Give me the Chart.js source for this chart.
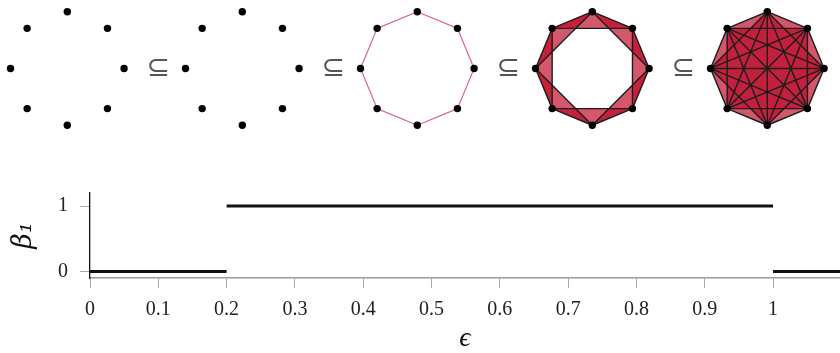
<!DOCTYPE html>
<html><head><meta charset="utf-8">
<script src="https://cdn.jsdelivr.net/npm/chart.js@4"></script>
<style>
html,body{margin:0;padding:0;background:#fff;width:840px;height:353px;overflow:hidden}
#top{position:absolute;left:0;top:0}
#bot{position:absolute;left:0;top:150px}
</style></head><body>
<canvas id="top" width="840" height="150"></canvas>
<canvas id="bot" width="840" height="203"></canvas>
<script>
// ---- Betti curve (bottom panel) ----
const segStart = [0, 0.2, 1];
const segEnd = [0.2, 1, 1.1];
const betti1 = [0, 1, 0];
const xTicks = [0, 0.1, 0.2, 0.3, 0.4, 0.5, 0.6, 0.7, 0.8, 0.9, 1];
const xTickLabels = ['0', '0.1', '0.2', '0.3', '0.4', '0.5', '0.6', '0.7', '0.8', '0.9', '1'];
const yTicks = [0, 1];
const yTickLabels = ['0', '1'];
const xTitle = 'ϵ';
const yTitle = 'β₁';

// ---- Filtration of complexes (top panel) ----
const figureIndex = [0, 1, 2, 3, 4];
const octX = [0, -0.7071, -1, -0.7071, 0, 0.7071, 1, 0.7071];
const octY = [1, 0.7071, 0, -0.7071, -1, -0.7071, 0, 0.7071];
const figureReach = [0, 0, 1, 2, 4]; // max circular neighbour distance connected
const subsetSymbol = '⊆';

const R = 0.3245;
const N = octX.length;
const cdist = (a, b) => { const d = Math.abs(a - b) % N; return Math.min(d, N - d); };

const vertexData = [];
figureIndex.forEach(f => octX.forEach((ox, k) => vertexData.push({x: f + R * ox, y: R * octY[k]})));

const complexPlugin = {
  id: 'complex',
  beforeDatasetsDraw(chart) {
    const ctx = chart.ctx, xs = chart.scales.x, ys = chart.scales.y;
    ctx.save();
    figureIndex.forEach((f, fi) => {
      const s = figureReach[fi];
      const P = octX.map((ox, k) => [xs.getPixelForValue(f + R * ox), ys.getPixelForValue(R * octY[k])]);
      const tris = [];
      for (let i = 0; i < N; i++) for (let j = i + 1; j < N; j++) for (let k = j + 1; k < N; k++) {
        if (cdist(i, j) <= s && cdist(j, k) <= s && cdist(i, k) <= s) tris.push([i, j, k]);
      }
      const tri = t => { ctx.beginPath(); ctx.moveTo(...P[t[0]]); ctx.lineTo(...P[t[1]]); ctx.lineTo(...P[t[2]]); ctx.closePath(); ctx.fill(); };
      if (s >= N / 2) {
        ctx.fillStyle = '#d4566b';
        ctx.beginPath(); P.forEach((p, i) => i ? ctx.lineTo(...p) : ctx.moveTo(...p)); ctx.closePath(); ctx.fill();
        ctx.fillStyle = '#c2203d';
        tris.filter(t => cdist(t[0], t[1]) > 1 && cdist(t[1], t[2]) > 1 && cdist(t[0], t[2]) > 1).forEach(tri);
      } else {
        ctx.fillStyle = 'rgba(192,7,37,0.68)';
        tris.forEach(tri);
      }
      ctx.strokeStyle = s === 1 ? '#d9687c' : '#1c1c1c';
      ctx.lineWidth = s === 1 ? 1.2 : 1.4;
      for (let i = 0; i < N; i++) for (let j = i + 1; j < N; j++) {
        if (cdist(i, j) <= s) { ctx.beginPath(); ctx.moveTo(...P[i]); ctx.lineTo(...P[j]); ctx.stroke(); }
      }
    });
    ctx.restore();
  },
  afterDraw(chart) {
    const ctx = chart.ctx, xs = chart.scales.x, ys = chart.scales.y;
    ctx.save();
    ctx.fillStyle = '#555';
    ctx.font = '28px "DejaVu Sans"';
    ctx.textAlign = 'center';
    ctx.textBaseline = 'middle';
    figureIndex.slice(0, -1).forEach(f => ctx.fillText(subsetSymbol, xs.getPixelForValue(f + 0.52), ys.getPixelForValue(0)));
    ctx.restore();
  }
};

new Chart(document.getElementById('top'), {
  type: 'scatter',
  data: {datasets: [{data: vertexData, pointRadius: 3.7, backgroundColor: '#000', borderWidth: 0}]},
  options: {
    responsive: false, animation: false, events: [],
    layout: {padding: 0, autoPadding: false},
    plugins: {legend: {display: false}, tooltip: {enabled: false}},
    scales: {
      x: {type: 'linear', display: false, min: -0.3846, max: 4.4154},
      y: {type: 'linear', display: false, min: -0.466, max: 0.3914}
    }
  },
  plugins: [complexPlugin]
});

new Chart(document.getElementById('bot'), {
  type: 'line',
  data: {
    datasets: segStart.map((s, i) => ({
      data: [{x: s, y: betti1[i]}, {x: segEnd[i], y: betti1[i]}],
      borderColor: '#111', borderWidth: 3, pointRadius: 0, tension: 0, fill: false
    }))
  },
  options: {
    responsive: false, animation: false, events: [],
    layout: {padding: {top: 43, left: 0, right: 0, bottom: 0}, autoPadding: false},
    plugins: {legend: {display: false}, tooltip: {enabled: false}},
    scales: {
      x: {
        type: 'linear', min: 0, max: 1.098,
        afterBuildTicks: s => { s.ticks = xTicks.map(v => ({value: v})); },
        afterFit: s => { s.height = 75; },
        ticks: {callback: (v, i) => xTickLabels[i], font: {family: 'Liberation Serif', size: 20}, color: '#222', padding: 10, maxRotation: 0, autoSkip: false},
        grid: {drawOnChartArea: false, drawTicks: true, tickLength: 10, color: '#aaa', lineWidth: 1},
        border: {color: '#9a9a9a', width: 1.5},
        title: {display: true, text: xTitle, color: '#111', font: {family: 'Liberation Serif', size: 28, style: 'italic', lineHeight: 1}, padding: 0}
      },
      y: {
        type: 'linear', min: -0.1, max: 1.2,
        afterBuildTicks: s => { s.ticks = yTicks.map(v => ({value: v})); },
        afterFit: s => { s.width = 90; },
        ticks: {callback: (v, i) => yTickLabels[i], font: {family: 'Liberation Serif', size: 20}, color: '#222', padding: 12},
        grid: {drawOnChartArea: false, drawTicks: true, tickLength: 10, color: '#aaa', lineWidth: 1},
        border: {color: '#111', width: 1.3},
        title: {display: true, text: yTitle, color: '#111', font: {family: 'DejaVu Serif', size: 27, style: 'italic', lineHeight: 1}, padding: {top: 10, bottom: 0}}
      }
    }
  }
});
</script>
</body></html>
